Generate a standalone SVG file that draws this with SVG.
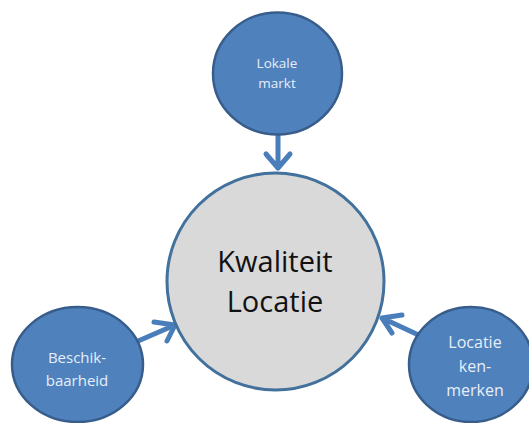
<svg xmlns="http://www.w3.org/2000/svg" width="529" height="423" viewBox="0 0 529 423">
<style>
.node{fill:#4f81bd;stroke:#385d8a;stroke-width:2.5}
.center{fill:#d9d9d9;stroke:#41719c;stroke-width:3}
.lt{fill:#e6eef8;font-family:"Open Sans","Liberation Sans",sans-serif;text-anchor:middle}
.ct{fill:#111;font-family:"Open Sans","Liberation Sans",sans-serif;font-size:29px;text-anchor:middle}
.arrow{fill:none;stroke:#4a7ebb;stroke-width:5;stroke-linecap:round;stroke-linejoin:round}
</style>
<rect width="529" height="423" fill="#fff"/>
<g id="connectors">
<path class="arrow" d="M278 122 L278 168 M266 154 L278 168 L290 154"/>
<path class="arrow" d="M122 348 L175 325 M154 322 L175 325 L167 341"/>
<path class="arrow" d="M425 338 L382 318 M402 315 L382 318 L392 333"/>
</g>
<g id="kwaliteit-locatie">
<circle class="center" cx="275.5" cy="281.5" r="108.5"/>
<text class="ct" x="275" y="272">Kwaliteit</text>
<text class="ct" x="275" y="312">Locatie</text>
</g>
<g id="lokale-markt">
<ellipse class="node" cx="277.5" cy="73.5" rx="64.5" ry="61"/>
<text class="lt" x="277" y="68" font-size="13.5">Lokale</text>
<text class="lt" x="277" y="88" font-size="13.5">markt</text>
</g>
<g id="beschikbaarheid">
<ellipse class="node" cx="77.5" cy="364.5" rx="65.5" ry="57.5"/>
<text class="lt" x="77" y="363" font-size="15">Beschik-</text>
<text class="lt" x="77" y="386" font-size="15">baarheid</text>
</g>
<g id="locatie-kenmerken">
<ellipse class="node" cx="471" cy="364.5" rx="62" ry="57.5"/>
<text class="lt" x="475" y="348" font-size="16">Locatie</text>
<text class="lt" x="475" y="372" font-size="16">ken-</text>
<text class="lt" x="475" y="396" font-size="16">merken</text>
</g>
</svg>
